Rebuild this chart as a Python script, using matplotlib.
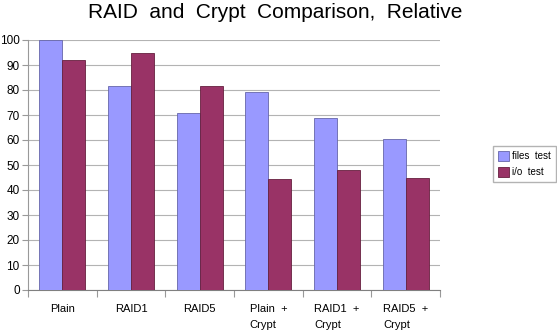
import numpy as np
import matplotlib
matplotlib.use("Agg")
import matplotlib.pyplot as plt

plt.rcParams['font.family'] = ['Liberation Sans', 'DejaVu Sans']

categories = ["Plain", "RAID1", "RAID5", "Plain  +\nCrypt", "RAID1  +\nCrypt", "RAID5  +\nCrypt"]
files_test = [100, 81.5, 70.7, 79.1, 68.7, 60.4]
io_test = [92, 95, 81.5, 44.3, 47.9, 44.8]
yticks = [0, 10, 20, 30, 40, 50, 60, 70, 80, 90, 100]

fig = plt.figure(figsize=(5.57, 3.33), dpi=100)
ax = fig.add_axes([28/557, 1 - 290/333, 412/557, 250/333])

x = np.arange(len(categories))
w = 1/3
ax.bar(x - w/2, files_test, w, color='#9999ff', edgecolor='#6666aa', linewidth=0.6,
       label='files  test', zorder=3)
ax.bar(x + w/2, io_test, w, color='#993366', edgecolor='#66203f', linewidth=0.6,
       label='i/o  test', zorder=3)

ax.set_xlim(-0.5, len(categories) - 0.5)
ax.set_ylim(0, 100)
ax.set_yticks(yticks)
ax.yaxis.grid(True, color='#b3b3b3', linewidth=0.8, zorder=0)
ax.tick_params(axis='y', length=4, color='#999999', labelsize=8.5, pad=2)

# group separators as ticks, labels centred on groups
ax.set_xticks(np.arange(len(categories) + 1) - 0.5)
ax.set_xticklabels([])
ax.set_xticks(x, minor=True)
ax.set_xticklabels(categories, minor=True, fontsize=8, multialignment='left', linespacing=1.75)
ax.tick_params(axis='x', which='major', length=5, color='#999999')
ax.tick_params(axis='x', which='minor', length=0, pad=10)

for s in ['top', 'right']:
    ax.spines[s].set_visible(False)
ax.spines['left'].set_color('#999999')
ax.spines['bottom'].set_color('#808080')

fig.text(275/557, 1 - 13/333, "RAID  and  Crypt  Comparison,  Relative", ha='center', va='center', fontsize=15)

fig.legend(loc='center left', bbox_to_anchor=(491/557, 1 - 164/333), fontsize=7,
           fancybox=False, edgecolor='#b3b3b3', framealpha=1, handlelength=1.2,
           handleheight=1.2, handletextpad=0.3, borderpad=0.5, labelspacing=0.6,
           borderaxespad=0.2)

plt.savefig("out.png", dpi=100)
